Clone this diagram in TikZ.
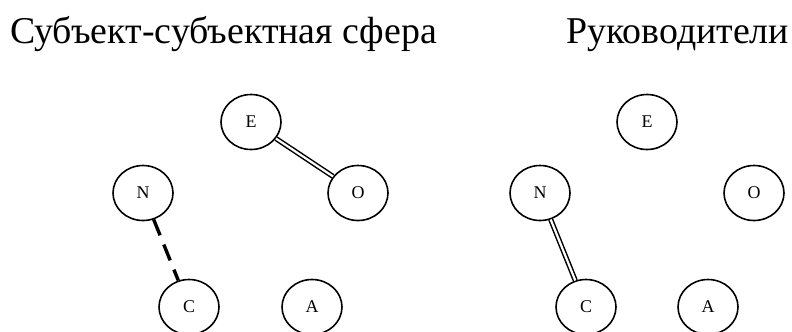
\documentclass[tikz,border=0pt]{standalone}
\usepackage{fontspec}
\setmainfont[Script=Cyrillic]{Liberation Serif}
\newfontfamily\titlefont[Script=Cyrillic]{Liberation Serif}
\usetikzlibrary{shapes.geometric}
\begin{document}
\begin{tikzpicture}[x=1bp,y=-1bp,
  vert/.style={draw,ellipse,line width=1.6bp,minimum width=60bp,minimum height=55bp,inner sep=0pt,font=\fontsize{18}{21}\selectfont},
  title/.style={anchor=base west,inner sep=0pt,font=\titlefont\fontsize{38}{45}\selectfont},
  dbl/.style={double,line width=1.5bp,double distance=2.2bp},
  dsh/.style={line width=3.4bp,dash pattern=on 17bp off 10bp}]
\useasboundingbox (0,0) rectangle (792,331);
\clip (0,0) rectangle (792,331);
\node[title] (t1) at (10,43) {Субъект-субъектная сфера};
\node[title] (t2) at (566,43) {Руководители};
% left
\node[vert] (lE) at (251,122) {E};
\node[vert] (lN) at (143,193) {N};
\node[vert] (lO) at (358,193) {O};
\node[vert] (lC) at (189,307) {C};
\node[vert] (lA) at (312,307) {A};
\draw[dbl] (lE) -- (lO);
\draw[dsh] (lN) -- (lC);
% right
\node[vert] (rE) at (647,122) {E};
\node[vert] (rN) at (540,193) {N};
\node[vert] (rO) at (754,193) {O};
\node[vert] (rC) at (586,307) {C};
\node[vert] (rA) at (708,307) {A};
\draw[dbl] (rN) -- (rC);
\end{tikzpicture}
\end{document}
